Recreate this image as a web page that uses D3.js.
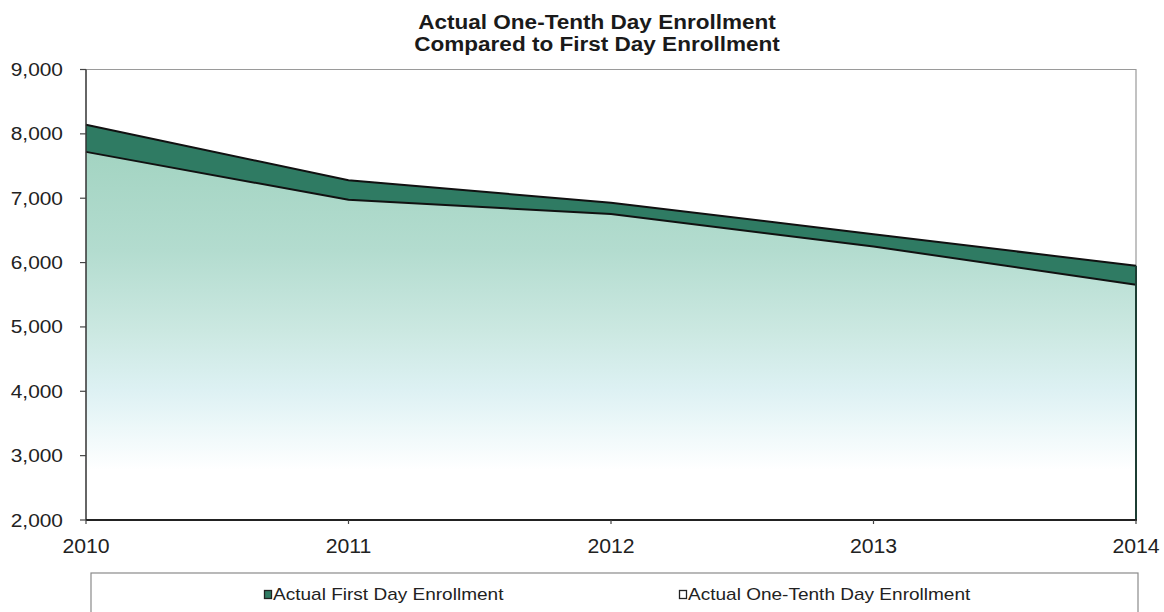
<!DOCTYPE html>
<html>
<head>
<meta charset="utf-8">
<script src="https://cdn.jsdelivr.net/npm/d3@7"></script>
<style>
  html, body { margin: 0; padding: 0; background: #fff; }
  svg { display: block; font-family: "Liberation Sans", Arial, sans-serif; }
</style>
</head>
<body>
<svg id="chart" width="1164" height="612"></svg>
<script>
// ---- data ----
const years = [2010, 2011, 2012, 2013, 2014];
const firstDay = [8140, 7280, 6930, 6440, 5950];
const oneTenthDay = [7720, 6975, 6755, 6250, 5655];
const yTicks = [2000, 3000, 4000, 5000, 6000, 7000, 8000, 9000];
const titleLines = ["Actual One-Tenth Day Enrollment", "Compared to First Day Enrollment"];
const seriesNames = ["Actual First Day Enrollment", "Actual One-Tenth Day Enrollment"];

(function () {
// ---- layout ----
const svg = d3.select("#chart");
const pLeft = 86, pRight = 1136, pTop = 69.5, pBottom = 520;
const x = d3.scalePoint().domain(years).range([pLeft, pRight]);
const y = d3.scaleLinear().domain([2000, 9000]).range([pBottom, pTop]);
const rows = years.map((yr, i) => ({ yr, first: firstDay[i], tenth: oneTenthDay[i] }));

// gradient for the lower area
const defs = svg.append("defs");
const g0 = y(d3.max(oneTenthDay));
const grad = defs.append("linearGradient")
  .attr("id", "lowGrad").attr("gradientUnits", "userSpaceOnUse")
  .attr("x1", 0).attr("x2", 0).attr("y1", g0).attr("y2", pBottom);
const stopsAbs = [[g0, "#a3d4c2"], [250, "#b3dccf"], [330, "#cbe8e1"], [390, "#ddf1f3"], [440, "#f2fafb"], [470, "#ffffff"], [pBottom, "#ffffff"]];
stopsAbs.forEach(([py, c]) => grad.append("stop")
  .attr("offset", (py - g0) / (pBottom - g0)).attr("stop-color", c));

// plot frame (top/right gray)
svg.append("path")
  .attr("d", `M${pLeft},${pTop}H${pRight}V${pBottom}`)
  .attr("fill", "none").attr("stroke", "#9a9a9a").attr("stroke-width", 1.2);

// areas
const lowArea = d3.area().x(d => x(d.yr)).y0(y(2000)).y1(d => y(d.tenth));
const bandArea = d3.area().x(d => x(d.yr)).y0(d => y(d.tenth)).y1(d => y(d.first));

svg.append("path").datum(rows).attr("d", lowArea)
  .attr("fill", "url(#lowGrad)");
svg.append("path").datum(rows).attr("d", bandArea)
  .attr("fill", "#2f7b63");

// outlines
const lineFirst = d3.line().x(d => x(d.yr)).y(d => y(d.first));
const lineTenth = d3.line().x(d => x(d.yr)).y(d => y(d.tenth));
svg.append("path").datum(rows).attr("d", lineFirst)
  .attr("fill", "none").attr("stroke", "#111").attr("stroke-width", 2);
svg.append("path").datum(rows).attr("d", lineTenth)
  .attr("fill", "none").attr("stroke", "#111").attr("stroke-width", 2);
// right edge of the stack
const last = rows[rows.length - 1];
svg.append("line")
  .attr("x1", x(last.yr)).attr("x2", x(last.yr))
  .attr("y1", y(last.first)).attr("y2", y(2000))
  .attr("stroke", "#1c3d33").attr("stroke-width", 2);

// axes
svg.append("line").attr("x1", pLeft).attr("x2", pLeft).attr("y1", pTop).attr("y2", pBottom)
  .attr("stroke", "#333").attr("stroke-width", 1.5);
svg.append("line").attr("x1", pLeft).attr("x2", pRight + 1).attr("y1", pBottom).attr("y2", pBottom)
  .attr("stroke", "#222").attr("stroke-width", 2.2);

// y ticks + labels
const fmt = d3.format(",");
yTicks.forEach(v => {
  svg.append("line").attr("x1", pLeft - 6).attr("x2", pLeft).attr("y1", y(v)).attr("y2", y(v))
    .attr("stroke", "#444").attr("stroke-width", 1.2);
  svg.append("text")
    .attr("transform", `translate(63,${y(v) + 6.5}) scale(1.13,1)`)
    .attr("text-anchor", "end").attr("font-size", 18.5).attr("fill", "#222")
    .text(fmt(v));
});

// x ticks + labels
years.forEach(yr => {
  svg.append("line").attr("x1", x(yr)).attr("x2", x(yr)).attr("y1", pBottom).attr("y2", pBottom + 4)
    .attr("stroke", "#444").attr("stroke-width", 1.2);
  svg.append("text")
    .attr("transform", `translate(${x(yr)},553) scale(1.09,1)`)
    .attr("text-anchor", "middle").attr("font-size", 19.5).attr("fill", "#222")
    .text(yr);
});

// title
titleLines.forEach((t, i) => {
  svg.append("text")
    .attr("transform", `translate(597,${29 + i * 22}) scale(1.1,1)`)
    .attr("text-anchor", "middle").attr("font-size", 20.5).attr("font-weight", "bold")
    .attr("fill", "#1a1a1a").text(t);
});

// legend
svg.append("rect").attr("x", 91).attr("y", 573).attr("width", 1047).attr("height", 60)
  .attr("fill", "#fff").attr("stroke", "#8a8a8a").attr("stroke-width", 1.2);
const legendX = [264, 679];
const legendFill = ["#2f7b63", "#ffffff"];
seriesNames.forEach((name, i) => {
  svg.append("rect").attr("x", legendX[i] + 0.5).attr("y", 590.5).attr("width", 7).attr("height", 8)
    .attr("fill", legendFill[i]).attr("stroke", "#222").attr("stroke-width", 1.3);
  svg.append("text")
    .attr("transform", `translate(${legendX[i] + 9},600) scale(1.12,1)`)
    .attr("font-size", 17).attr("fill", "#222").text(name);
});
})();
</script>
</body>
</html>
